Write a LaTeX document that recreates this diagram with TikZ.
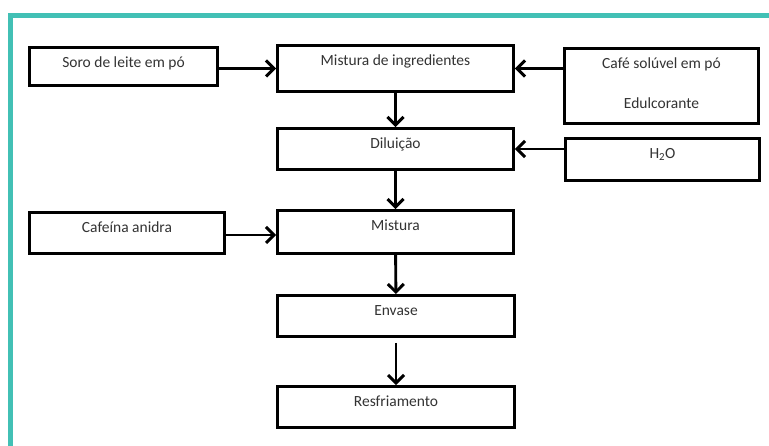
\documentclass[tikz,border=0pt]{standalone}
\usepackage{fontspec}
\setmainfont{Carlito}
\usepackage{tikz}
\usetikzlibrary{arrows.meta, positioning}
\definecolor{frameteal}{RGB}{66,192,181}

\begin{document}
\begin{tikzpicture}[x=1pt, y=-1pt,
  txt/.style={anchor=base, yshift=-21.5pt, inner sep=0pt, text=black!80,
              font=\fontsize{15.5}{18}\selectfont},
  stage/.style={rectangle, draw=black, line width=2.9pt, fill=white,
                label={[txt]north:#1}},
  flow/.style={-{Straight Barb[length=8pt, width=16pt]}, line width=2.9pt}
]
  \useasboundingbox (0,0) rectangle (769,446);

  % teal frame, cut at right and bottom
  \draw[frameteal, line width=5pt] (10.5,450) -- (10.5,15.5) -- (775,15.5);

  % main line
  \node[stage={Mistura de ingredientes}, minimum width=236pt, minimum height=46pt] (mix)      at (395.5,68.5) {};
  \node[stage={Diluição},                minimum width=236pt, minimum height=41pt] (dilu)     at (395.5,149)  {};
  \node[stage={Mistura},                 minimum width=236pt, minimum height=43pt] (mistura)  at (395.5,232)  {};
  \node[stage={Envase},                  minimum width=237pt, minimum height=41pt] (envase)   at (396,316)    {};
  \node[stage={Resfriamento},            minimum width=237pt, minimum height=41pt] (resf)     at (396,407)    {};

  % inputs
  \node[stage={Soro de leite em pó},     minimum width=188pt, minimum height=38pt] (soro)     at (123.5,66.5) {};
  \node[stage={Cafeína anidra},          minimum width=195pt, minimum height=41pt] (cafeina)  at (127,233)    {};
  \node[stage={Café solúvel em pó},      minimum width=194pt, minimum height=75pt,
        label={[txt, yshift=-40pt]north:Edulcorante}]                              (cafe)     at (661.5,86)   {};
  \node[stage={H\textsubscript{2}O},     minimum width=194pt, minimum height=42pt] (agua)     at (662.5,159.5) {};

  \draw[flow] (soro.east |- mix.west) -- (mix.west);
  \draw[flow] (cafe.west |- mix.east) -- (mix.east);
  \draw[flow] (agua.west |- dilu.east) -- (dilu.east);
  \draw[flow] ([yshift=-2pt]cafeina.east) -- ([yshift=-2pt]cafeina.east -| mistura.west);

  \draw[flow] (mix) -- (dilu);
  \draw[flow] (dilu) -- (mistura);
  \draw[flow] (mistura) -- (envase);
  \draw[flow, shorten <=5pt] (envase) -- (resf);
\end{tikzpicture}
\end{document}
